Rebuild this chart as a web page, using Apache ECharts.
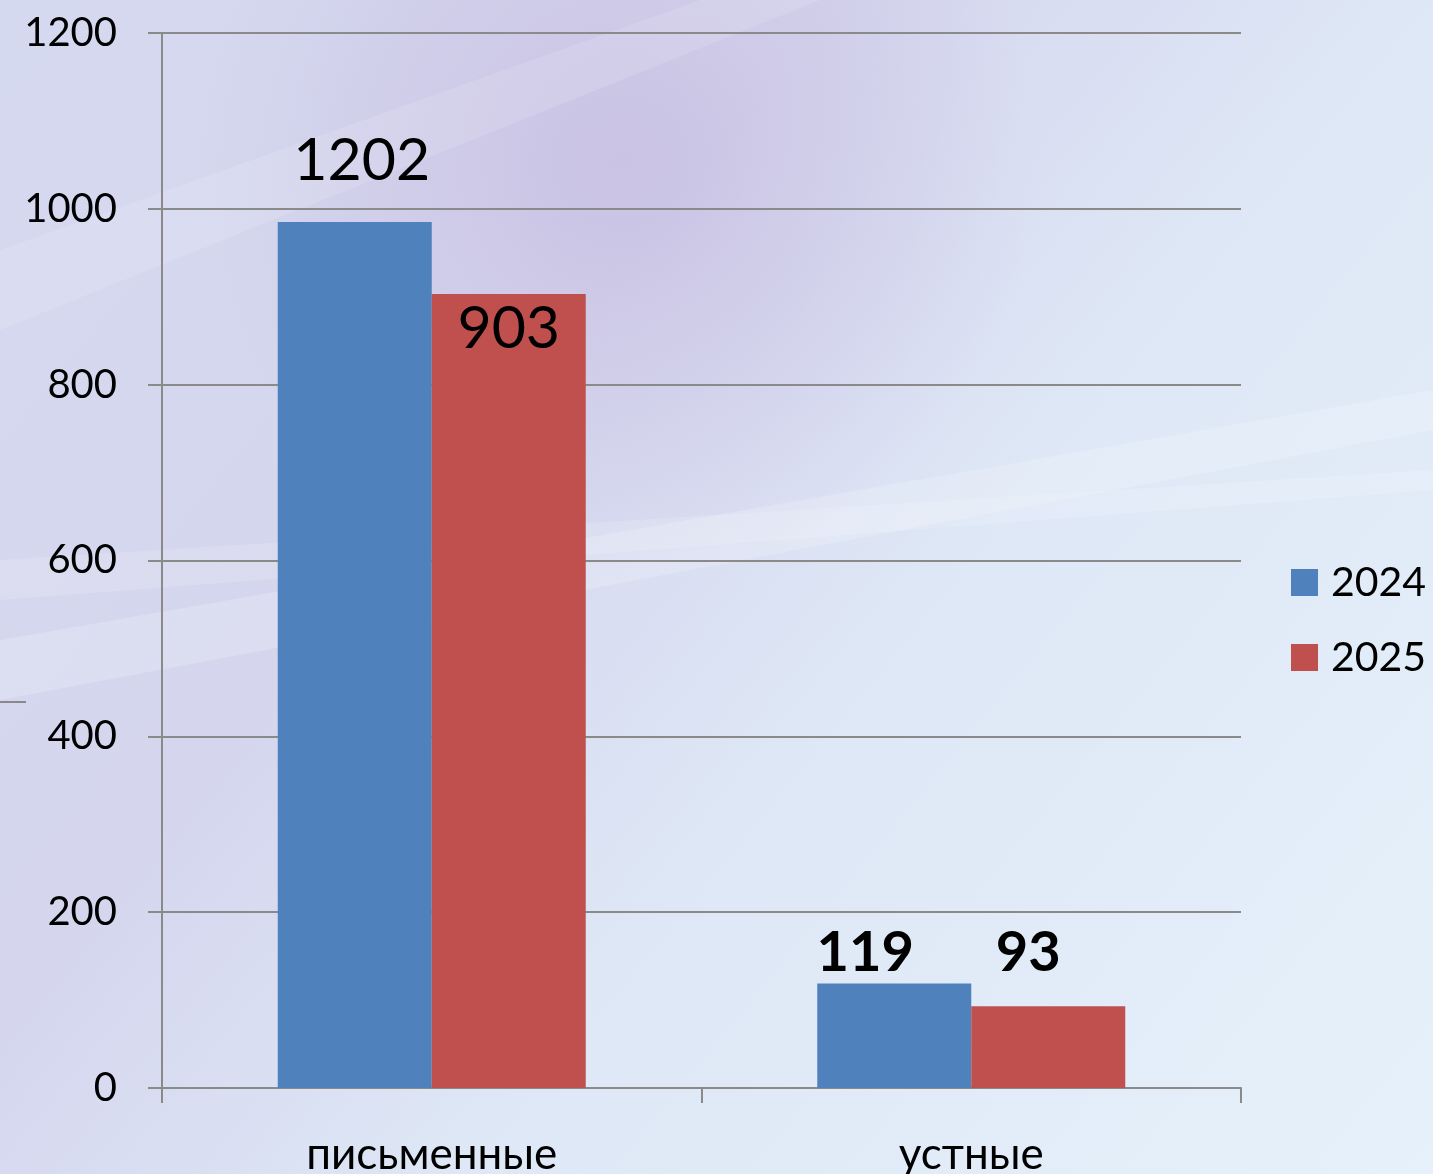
<!DOCTYPE html>
<html>
<head>
<meta charset="utf-8">
<script src="https://cdn.jsdelivr.net/npm/echarts@6/dist/echarts.min.js"></script>
<style>
  html, body { margin: 0; padding: 0; }
  #chart { width: 1433px; height: 1174px; }
</style>
</head>
<body>
<div id="chart"></div>
<script>
// данные
var categories = ['письменные', 'устные'];
var seriesNames = ['2024', '2025'];
var values2024 = [985, 119];
var values2025 = [903, 93];
var labels2024 = ['1202', '119'];
var labels2025 = ['903', '93'];
var yTicks = [0, 200, 400, 600, 800, 1000, 1200];

var font = 'Lato, "Noto Sans", sans-serif';

var myChart = echarts.init(document.getElementById('chart'));
myChart.setOption({
    backgroundColor: {
        type: 'linear', x: 0, y: 0, x2: 1, y2: 1,
        colorStops: [
            {offset: 0, color: '#d5d9ef'},
            {offset: 0.35, color: '#d5d6ee'},
            {offset: 0.6, color: '#dee8f6'},
            {offset: 1, color: '#e6f1fb'}
        ]
    },
    graphic: [
        // мягкое лиловое пятно сверху
        {
            type: 'circle', z: -20, silent: true,
            shape: {cx: 620, cy: 160, r: 420},
            style: {
                fill: {
                    type: 'radial', x: 0.5, y: 0.5, r: 0.5,
                    colorStops: [
                        {offset: 0, color: 'rgba(196,184,222,0.65)'},
                        {offset: 1, color: 'rgba(196,184,222,0)'}
                    ]
                }
            }
        },
        // светлые полосы
        {
            type: 'polygon', z: -19, silent: true,
            shape: {points: [[0, 640], [1433, 390], [1433, 430], [0, 700]]},
            style: {fill: 'rgba(255,255,255,0.18)'}
        },
        {
            type: 'polygon', z: -19, silent: true,
            shape: {points: [[0, 560], [1433, 470], [1433, 490], [0, 600]]},
            style: {fill: 'rgba(255,255,255,0.14)'}
        },
        {
            type: 'polygon', z: -19, silent: true,
            shape: {points: [[0, 250], [700, 0], [820, 0], [0, 330]]},
            style: {fill: 'rgba(255,255,255,0.12)'}
        },
        {
            type: 'line', z: -5, silent: true,
            shape: {x1: 0, y1: 702, x2: 26, y2: 702},
            style: {stroke: '#8a8a8a', lineWidth: 2}
        }
    ],
    legend: {
        orient: 'vertical',
        left: 1286,
        top: 557,
        itemWidth: 27,
        itemHeight: 27,
        itemGap: 34,
        icon: 'rect',
        textStyle: {fontFamily: font, fontSize: 41, color: '#000', lineHeight: 40, padding: [0, 0, 0, 8]},
        data: seriesNames
    },
    grid: {left: 162, right: 192, top: 33, bottom: 86, outerBoundsMode: 'none'},
    xAxis: {
        type: 'category',
        data: categories,
        axisLine: {lineStyle: {color: '#8a8a8a', width: 2}},
        axisTick: {show: true, length: 15, lineStyle: {color: '#8a8a8a', width: 2}},
        axisLabel: {fontFamily: font, fontSize: 44, color: '#000', margin: 45}
    },
    yAxis: {
        type: 'value',
        min: yTicks[0],
        max: yTicks[yTicks.length - 1],
        interval: 200,
        axisLine: {show: true, lineStyle: {color: '#8a8a8a', width: 2}},
        axisTick: {show: true, length: 14, lineStyle: {color: '#8a8a8a', width: 2}},
        axisLabel: {
            fontFamily: font, fontSize: 40, color: '#000', margin: 45,
            formatter: function (v) { return String(v); }
        },
        splitLine: {lineStyle: {color: '#8a8a8a', width: 2}}
    },
    series: [
        {
            name: seriesNames[0],
            type: 'bar',
            barWidth: 154,
            barGap: '0%',
            itemStyle: {color: '#4f81bd'},
            data: values2024.map(function (v, i) {
                return {
                    value: v,
                    label: i === 0
                        ? {position: 'top', distance: 32, offset: [7, 0], fontWeight: 'normal', fontSize: 59}
                        : {position: 'top', distance: 2, offset: [-29, 0], fontWeight: 'bold', fontSize: 56}
                };
            }),
            label: {
                show: true,
                fontFamily: font,
                color: '#000',
                formatter: function (p) { return labels2024[p.dataIndex]; }
            }
        },
        {
            name: seriesNames[1],
            type: 'bar',
            barWidth: 154,
            barGap: '0%',
            itemStyle: {color: '#c0504d'},
            data: values2025.map(function (v, i) {
                return {
                    value: v,
                    label: i === 0
                        ? {position: 'insideTop', distance: 5, fontWeight: 'normal', fontSize: 59}
                        : {position: 'top', distance: 25, offset: [-20, 0], fontWeight: 'bold', fontSize: 56}
                };
            }),
            label: {
                show: true,
                fontFamily: font,
                color: '#000',
                formatter: function (p) { return labels2025[p.dataIndex]; }
            }
        }
    ]
});
</script>
</body>
</html>
